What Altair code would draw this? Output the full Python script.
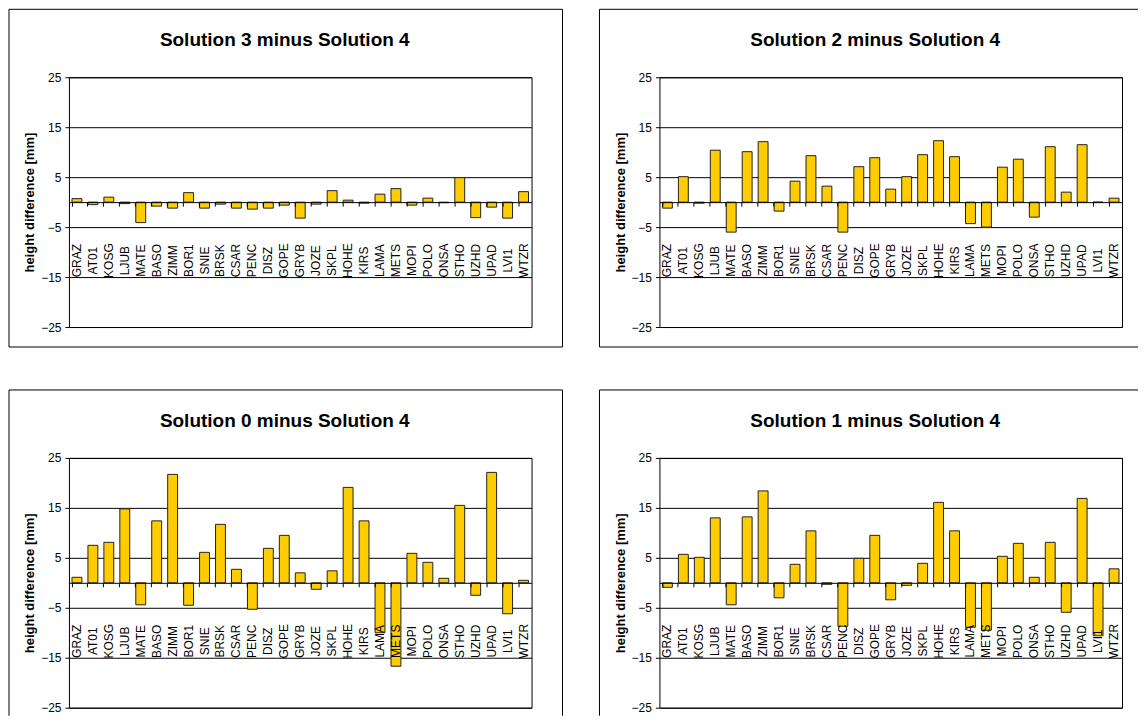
import altair as alt
import pandas as pd

stations = ["GRAZ", "AT01", "KOSG", "LJUB", "MATE", "BASO", "ZIMM", "BOR1", "SNIE", "BRSK",
            "CSAR", "PENC", "DISZ", "GOPE", "GRYB", "JOZE", "SKPL", "HOHE", "KIRS", "LAMA",
            "METS", "MOPI", "POLO", "ONSA", "STHO", "UZHD", "UPAD", "LVI1", "WTZR"]

sol3 = [0.7, -0.5, 1.0, -0.3, -4.1, -0.8, -1.2, 1.9, -1.2, -0.4,
        -1.2, -1.4, -1.2, -0.6, -3.2, -0.4, 2.3, 0.4, -0.2, 1.6,
        2.7, -0.6, 0.8, -0.1, 4.9, -3.1, -1.0, -3.2, 2.1]
sol2 = [-1.2, 5.1, -0.2, 10.4, -6.0, 10.1, 12.1, -1.8, 4.2, 9.3,
        3.2, -6.0, 7.1, 8.9, 2.6, 5.1, 9.5, 12.3, 9.1, -4.3,
        -5.0, 7.0, 8.6, -3.0, 11.1, 2.0, 11.5, 0.0, 0.8]
sol0 = [1.1, 7.5, 8.1, 14.8, -4.4, 12.4, 21.7, -4.5, 6.1, 11.7,
        2.7, -5.3, 6.9, 9.5, 2.0, -1.3, 2.4, 19.1, 12.4, -10.0,
        -16.7, 5.9, 4.1, 0.9, 15.5, -2.5, 22.1, -6.2, 0.5]
sol1 = [-0.9, 5.7, 5.1, 13.0, -4.4, 13.2, 18.4, -3.0, 3.7, 10.4,
        -0.3, -8.7, 4.9, 9.5, -3.4, -0.5, 3.9, 16.1, 10.4, -8.9,
        -9.5, 5.3, 7.9, 1.1, 8.1, -5.9, 16.9, -10.6, 2.8]

titles = ["Solution 3 minus Solution 4", "Solution 2 minus Solution 4",
          "Solution 0 minus Solution 4", "Solution 1 minus Solution 4"]

W, H = 463, 250
FONT = "Liberation Sans"


def rule(x, x2, y, y2):
    return alt.Chart(pd.DataFrame({"a": [0]})).mark_rule(color="black", strokeWidth=1).encode(
        x=alt.value(x), x2=alt.value(x2), y=alt.value(y), y2=alt.value(y2))


def panel(values, title, edges):
    df = pd.DataFrame({"station": stations, "value": values})
    bars = alt.Chart(df).mark_bar(color="#FFCC00", stroke="#222222", strokeWidth=1).encode(
        x=alt.X("station:N", sort=stations, title=None,
                scale=alt.Scale(paddingInner=0.38, paddingOuter=0.19),
                axis=alt.Axis(orient="bottom", offset=-125, domainColor="black", domainWidth=1,
                              tickColor="black", tickSize=4, bandPosition=0,
                              labelAngle=270, labelAlign="center", labelBaseline="middle",
                              labelPadding=54, labelFontSize=12, labelColor="black",
                              labelFont=FONT, zindex=1)),
        y=alt.Y("value:Q", scale=alt.Scale(domain=[-25, 25], nice=False),
                axis=alt.Axis(values=[-25, -15, -5, 5, 15, 25], grid=True, gridColor="black",
                              gridWidth=1, domain=False, tickColor="black", tickSize=4,
                              labelPadding=4, labelFontSize=12, labelColor="black", labelFont=FONT,
                              title="height difference [mm]", titleFontSize=13,
                              titleFontWeight="bold", titleFont=FONT, titleColor="black",
                              titleX=-39, titleY=125, titleAlign="center",
                              titleBaseline="middle")),
    )
    ttl = alt.Chart(pd.DataFrame({"t": [title]})).mark_text(
        fontSize=19, fontWeight="bold", font=FONT, color="black",
        align="center", baseline="middle").encode(
        x=alt.value(216), y=alt.value(-37), text="t:N")
    layers = [bars, ttl]
    L, T = -60, -68
    R, B = edges
    layers.append(rule(L, R, T, T))  # top
    layers.append(rule(L, L, T, B))  # left
    if R == 494:
        layers.append(rule(R, R, T, B))  # right
    if B == 270:
        layers.append(rule(L, R, B, B))  # bottom
    return alt.layer(*layers).properties(width=W, height=H)


p1 = panel(sol3, titles[0], (494, 270))
p2 = panel(sol2, titles[1], (479, 270))
p3 = panel(sol0, titles[2], (494, 258))
p4 = panel(sol1, titles[3], (479, 258))

chart = alt.vconcat(
    alt.hconcat(p1, p2, spacing=35),
    alt.hconcat(p3, p4, spacing=35),
    spacing=41,
).properties(padding=0, background="white").configure(font=FONT).configure_view(
    stroke="black", strokeWidth=1)

chart.save("out.html", embed_options={"renderer": "svg", "actions": False})
